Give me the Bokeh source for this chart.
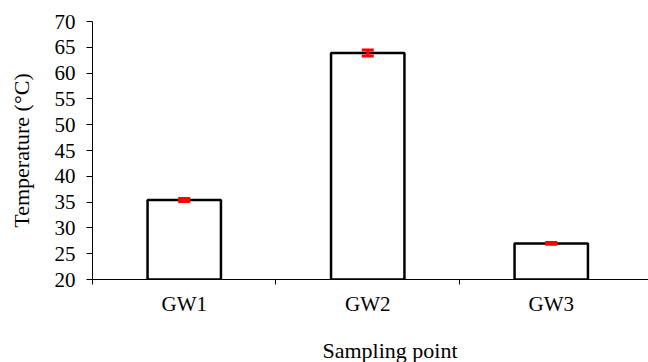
from bokeh.plotting import figure
from bokeh.models import FixedTicker, Whisker, ColumnDataSource, TeeHead, Title
from bokeh.embed import file_html
from bokeh.resources import INLINE

categories = ["GW1", "GW2", "GW3"]
temperature = [35.4, 63.9, 27.0]
error = [0.3, 0.6, 0.15]
y_ticks = [20, 25, 30, 35, 40, 45, 50, 55, 60, 65, 70]

FONT = "Liberation Serif"

xpos = [i + 0.5 for i in range(len(categories))]
src = ColumnDataSource(dict(
    x=xpos, top=temperature,
    lo=[t - e for t, e in zip(temperature, error)],
    hi=[t + e for t, e in zip(temperature, error)],
))

p = figure(width=648, height=362, output_backend="svg", toolbar_location=None,
           x_range=(0, 3.03), y_range=(20, 70),
           min_border_left=92, min_border_right=0, min_border_top=21, min_border_bottom=0)
p.outline_line_color = None
p.xgrid.visible = False
p.ygrid.visible = False
p.background_fill_color = "white"

p.vbar(x="x", top="top", bottom=20, width=0.4, source=src,
       fill_color="white", line_color="black", line_width=2.5)

w = Whisker(base="x", lower="lo", upper="hi", source=src, level="overlay",
            line_color="red", line_width=3,
            upper_head=TeeHead(size=12, line_color="red", line_width=3),
            lower_head=TeeHead(size=12, line_color="red", line_width=3))
p.add_layout(w)

# x axis
xa = p.xaxis[0]
xa.ticker = FixedTicker(ticks=xpos, minor_ticks=[0, 1, 2])
xa.major_label_overrides = {x: c for x, c in zip(xpos, categories)}
xa.major_tick_out = 0
xa.major_tick_in = 0
xa.minor_tick_out = 5
xa.minor_tick_in = 0
xa.minor_tick_line_color = "black"
xa.axis_line_color = "black"
xa.major_label_text_font = FONT
xa.major_label_text_font_size = "21px"
xa.major_label_text_color = "black"
xa.major_label_standoff = 7

# y axis
ya = p.yaxis[0]
ya.ticker = FixedTicker(ticks=y_ticks)
ya.major_tick_out = 6
ya.major_tick_in = 0
ya.minor_tick_out = 0
ya.minor_tick_in = 0
ya.axis_line_color = "black"
ya.major_tick_line_color = "black"
ya.major_label_text_font = FONT
ya.major_label_text_font_size = "21px"
ya.major_label_text_color = "black"
ya.major_label_standoff = 11
ya.axis_label = "Temperature (°C)"
ya.axis_label_text_font = FONT
ya.axis_label_text_font_size = "22px"
ya.axis_label_text_font_style = "normal"
ya.axis_label_text_color = "black"
ya.axis_label_standoff = 18

xlabel = Title(text="Sampling point", align="left", offset=230, standoff=0,
               vertical_align="bottom", padding=(0, 0, 17, 0),
               text_font=FONT, text_font_size="22px", text_font_style="normal",
               text_color="black")
p.add_layout(xlabel, "below")

open("out.html", "w").write(file_html(p, INLINE))
